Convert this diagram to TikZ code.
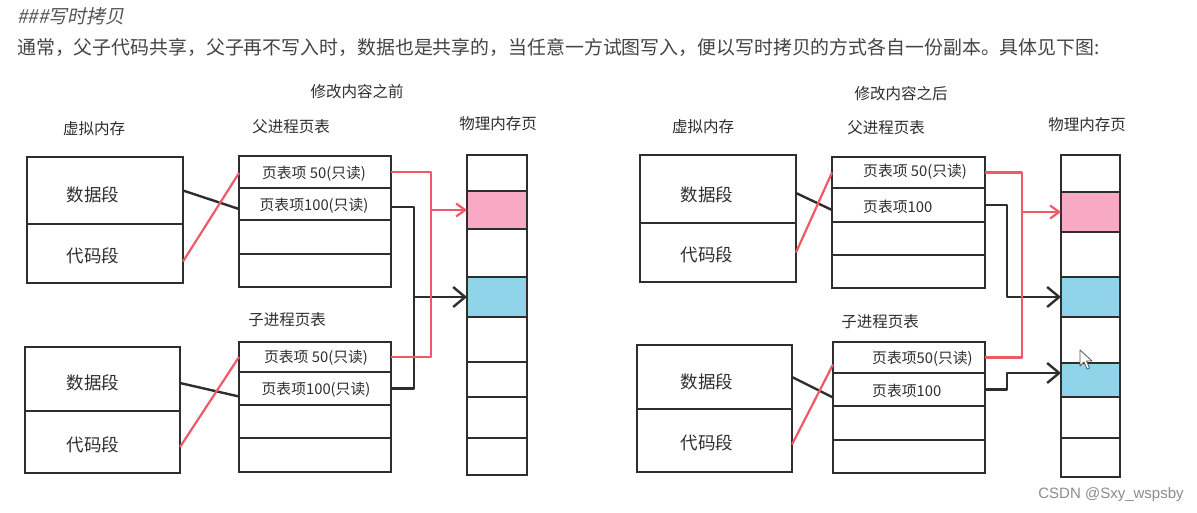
\documentclass[tikz,border=0pt]{standalone}
\usepackage{fontspec}
\setmainfont{Noto Sans CJK SC}
\newfontfamily\slantcjk[FakeSlant=0.2]{Noto Sans CJK SC}
\newfontfamily\wmfont{Liberation Sans}
\usetikzlibrary{arrows.meta,calc}
\definecolor{ink}{HTML}{2E2E2E}
\definecolor{redline}{HTML}{EF5A66}
\definecolor{pinkfill}{HTML}{F8A9C4}
\definecolor{bluefill}{HTML}{8FD4E8}
\definecolor{txtgray}{HTML}{444444}
\definecolor{titlegray}{HTML}{555555}
\newcommand\rbox[6]{\node[#6, minimum width={#4-#2}, minimum height={#5-#3}] (#1) at ({(#2+#4)/2},{(#3+#5)/2}) {};}
\begin{document}
\begin{tikzpicture}[x=1pt,y=-1pt,
  boxline/.style={draw=ink, line width=2.5pt, inner sep=0pt, outer sep=0pt, rectangle},
  lbl/.style={text=ink, font=\fontsize{15.5}{18}\selectfont, inner sep=0pt},
  seg/.style={text=ink, font=\fontsize{17.5}{20}\selectfont, inner sep=0pt},
  ent/.style={text=ink, font=\fontsize{14.8}{17}\selectfont, inner sep=0pt},
  blk/.style={draw=ink, line width=2.4pt, line join=round},
  redln/.style={draw=redline, line width=2.2pt, line join=round},
  blkarr/.style={blk, -{Straight Barb[length=12pt,width=20pt]}},
  redarr/.style={redln, -{Straight Barb[length=9pt,width=13pt]}}
]
\useasboundingbox (0,0) rectangle (1197,512);
\fill[white] (0,0) rectangle (1197,512);

% header
\node[anchor=west, inner sep=0pt, text=titlegray, font=\slantcjk\fontsize{19}{22}\selectfont] (title) at (17,16) {\#\#\#写时拷贝};
\node[anchor=west, inner sep=0pt, text=txtgray, font=\fontsize{18.9}{22}\selectfont] (para) at (17,47) {通常，父子代码共享，父子再不写入时，数据也是共享的，当任意一方试图写入，便以写时拷贝的方式各自一份副本。具体见下图:};

% ================= LEFT PANEL =================
\node[lbl] (hA) at (357,92) {修改内容之前};
\node[lbl] (vmA) at (94,129) {虚拟内存};
\node[lbl] (ptA) at (291,127) {父进程页表};
\node[lbl] (pmA) at (498,124) {物理内存页};
\node[lbl] (ctA) at (287,320) {子进程页表};

% parent virtual memory
\rbox{vpA}{27}{157}{183}{224}{boxline}
\rbox{vpB}{27}{224}{183}{283}{boxline}
\node[seg] (tvpA) at (93,195) {数据段};
\node[seg] (tvpB) at (93,256) {代码段};
% child virtual memory
\rbox{vcA}{25}{347}{180}{411}{boxline}
\rbox{vcB}{25}{411}{180}{473}{boxline}
\node[seg] (tvcA) at (93,383) {数据段};
\node[seg] (tvcB) at (93,445) {代码段};

% parent page table
\rbox{pA1}{239}{156}{391}{188}{boxline}
\rbox{pA2}{239}{188}{391}{220}{boxline}
\rbox{pA3}{239}{220}{391}{254}{boxline}
\rbox{pA4}{239}{254}{391}{287}{boxline}
\node[ent] (tpA1) at (314,174) {页表项 50(只读)};
\node[ent] (tpA2) at (314,206) {页表项100(只读)};
% child page table
\rbox{cA1}{239}{342}{391}{372}{boxline}
\rbox{cA2}{239}{372}{391}{405}{boxline}
\rbox{cA3}{239}{405}{391}{438}{boxline}
\rbox{cA4}{239}{438}{391}{472}{boxline}
\node[ent] (tcA1) at (316,358) {页表项 50(只读)};
\node[ent] (tcA2) at (316,390) {页表项100(只读)};

% physical memory
\rbox{mA1}{467}{155}{527}{191}{boxline}
\rbox{mA2}{467}{191}{527}{229}{boxline, fill=pinkfill}
\rbox{mA3}{467}{229}{527}{277}{boxline}
\rbox{mA4}{467}{277}{527}{317}{boxline, fill=bluefill}
\rbox{mA5}{467}{317}{527}{362}{boxline}
\rbox{mA6}{467}{362}{527}{397}{boxline}
\rbox{mA7}{467}{397}{527}{438}{boxline}
\rbox{mA8}{467}{438}{527}{475}{boxline}

% connectors left
\draw[blk] (vpA.east) -- ($(pA2.west)+(0,5)$);
\draw[redln] ($(vpB.east)+(0,8)$) -- ($(pA1.west)+(0,1)$);
\draw[blk] ($(vcA.east)+(0,4)$) -- ($(cA2.west)+(0,8)$);
\draw[redln] ($(vcB.east)+(0,5)$) -- (cA1.west);

\coordinate (rxA) at (431,0);
\coordinate (bxA) at (414,0);
\coordinate (pA2o) at ($(pA2.east)+(0,3)$);
\draw[blk] (pA2o) -- (pA2o -| bxA) -- (cA2.east -| bxA) -- (cA2.east);
\draw[blkarr] (mA4.west -| bxA) -- (mA4.west);
\draw[redln] (pA1.east) -- (pA1.east -| rxA) -- (cA1.east -| rxA) -- (cA1.east);
\draw[redarr] (mA2.west -| rxA) -- (mA2.west);

% ================= RIGHT PANEL =================
\node[lbl] (hB) at (901,94) {修改内容之后};
\node[lbl] (vmB) at (703,127) {虚拟内存};
\node[lbl] (ptB) at (886,128) {父进程页表};
\node[lbl] (pmB) at (1087,125) {物理内存页};
\node[lbl] (ctB) at (880,322) {子进程页表};

% parent virtual memory
\rbox{vpC}{640}{155}{796}{223}{boxline}
\rbox{vpD}{640}{223}{796}{282}{boxline}
\node[seg] (tvpC) at (707,195) {数据段};
\node[seg] (tvpD) at (707,255) {代码段};
% child virtual memory
\rbox{vcC}{637}{345}{792}{409}{boxline}
\rbox{vcD}{637}{409}{792}{472}{boxline}
\node[seg] (tvcC) at (707,382) {数据段};
\node[seg] (tvcD) at (707,443) {代码段};

% parent page table
\rbox{pB1}{832}{157}{985}{188}{boxline}
\rbox{pB2}{832}{188}{985}{222}{boxline}
\rbox{pB3}{832}{222}{985}{255}{boxline}
\rbox{pB4}{832}{255}{985}{288}{boxline}
\node[ent, anchor=west] (tpB1) at (863,172) {页表项 50(只读)};
\node[ent, anchor=west] (tpB2) at (863,207) {页表项100};
% child page table
\rbox{cB1}{833}{342}{985}{373}{boxline}
\rbox{cB2}{833}{373}{985}{406}{boxline}
\rbox{cB3}{833}{406}{985}{440}{boxline}
\rbox{cB4}{833}{440}{985}{473}{boxline}
\node[ent, anchor=west] (tcB1) at (872,359) {页表项50(只读)};
\node[ent, anchor=west] (tcB2) at (872,391) {页表项100};

% physical memory
\rbox{mB1}{1061}{155}{1120}{192}{boxline}
\rbox{mB2}{1061}{192}{1120}{232}{boxline, fill=pinkfill}
\rbox{mB3}{1061}{232}{1120}{277}{boxline}
\rbox{mB4}{1061}{277}{1120}{317}{boxline, fill=bluefill}
\rbox{mB5}{1061}{317}{1120}{363}{boxline}
\rbox{mB6}{1061}{363}{1120}{397}{boxline, fill=bluefill}
\rbox{mB7}{1061}{397}{1120}{438}{boxline}
\rbox{mB8}{1061}{438}{1120}{477}{boxline}

% connectors right
\draw[blk] ($(vpC.east)+(0,4)$) -- ($(pB2.west)+(0,5)$);
\draw[redln] (vpD.east) -- (pB1.west);
\draw[blk] (vcC.east) -- ($(cB2.west)+(0,8)$);
\draw[redln] ($(vcD.east)+(0,4)$) -- ($(cB1.west)+(0,7)$);

\coordinate (rxB) at (1022,0);
\coordinate (bxB) at (1007,0);
\coordinate (tB6) at ($(mB6.west)+(0,-7)$);
\draw[blkarr] (pB2.east) -- (pB2.east -| bxB) -- (mB4.west -| bxB) -- (mB4.west);
\draw[blkarr] (cB2.east) -- (cB2.east -| bxB) -- (tB6 -| bxB) -- (tB6);
\draw[redln] (pB1.east) -- (pB1.east -| rxB) -- (cB1.east -| rxB) -- (cB1.east);
\draw[redarr] (mB2.west -| rxB) -- (mB2.west);

% mouse cursor
\draw[fill=white, draw=ink!80, line width=0.8pt, line join=round]
  (1080,350) -- (1080,366) -- (1084,362) -- (1087,369) -- (1089.5,368) -- (1086.5,361) -- (1092,361) -- cycle;

% watermark
\node[inner sep=0pt, text=black!45, font=\wmfont\fontsize{15}{18}\selectfont] (wm) at (1111,495) {CSDN @Sxy\_wspsby};
\end{tikzpicture}
\end{document}
